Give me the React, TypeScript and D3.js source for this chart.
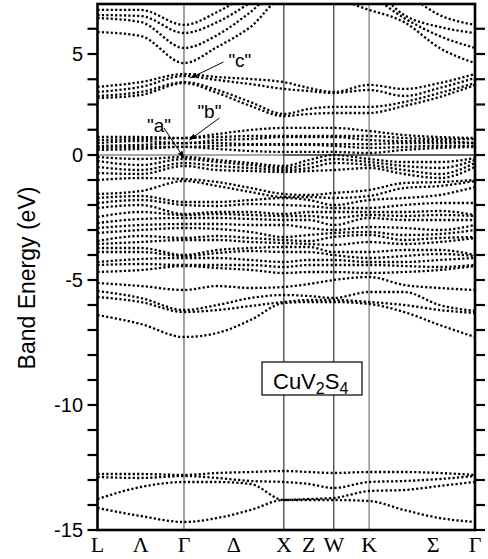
import React from 'react';
import * as d3 from 'd3';

// k-path sample positions (units of 2π/a): L, mid, Γ, .., X, mid, W, K, .., Γ
const kGrid = [0, 0.433, 0.866, 1.2, 1.533, 1.866, 2.116, 2.366, 2.72, 3.07, 3.425, 3.78];

// symmetry labels along the path
const symLabels = ['L', 'Λ', 'Γ', 'Δ', 'X', 'Z', 'W', 'K', 'Σ', 'Γ'];
const symLabelK = [0, 0.433, 0.866, 1.366, 1.866, 2.116, 2.366, 2.72, 3.36, 3.78];

// vertical symmetry lines
const symLineK = [0.866, 1.866, 2.366, 2.72];
const symLineColor = ['#555', '#222', '#222', '#999'];

// tick values (eV)
const majorTicks = [-15, -10, -5, 0, 5];
const minorTicks = [-14, -13, -12, -11, -9, -8, -7, -6, -4, -3, -2, -1, 1.25, 2.5, 3.75, 6.25];

// band energies (eV) at kGrid
const upperBands = [
  [6.09, 5.89, 4.55, 5.35, 6.34, 7.77, 7.67, 7.67, 7.18, 6.58, 5.3, 4.55],
  [6.78, 6.58, 5.3, 5.94, 7.08, 8.42, 8.42, 8.42, 7.92, 6.78, 5.89, 5.3],
  [6.93, 6.88, 6.04, 6.58, 7.57, 8.91, 8.91, 8.91, 8.42, 6.93, 6.34, 6.04],
  [7.18, 7.18, 6.44, 7.08, 8.07, 9.41, 9.41, 9.41, 9.16, 8.07, 6.93, 6.44],
];

const conductionBands = [
  [3.37, 3.61, 4.01, 3.86, 3.76, 3.61, 3.32, 3.12, 3.47, 3.27, 3.56, 4.01],
  [3.12, 3.37, 3.91, 3.71, 3.51, 3.27, 3.17, 3.07, 3.22, 2.92, 3.32, 3.81],
  [2.92, 3.12, 3.61, 3.22, 2.62, 2.03, 2.28, 2.38, 2.38, 2.62, 3.07, 3.56],
  [2.82, 2.97, 3.56, 3.07, 2.43, 1.93, 2.03, 2.08, 2.08, 2.43, 2.87, 3.47],
];

const t2gBands = [
  [0.89, 0.89, 0.84, 1.04, 1.24, 1.34, 1.34, 1.34, 1.19, 0.99, 0.89, 0.84],
  [0.74, 0.79, 0.84, 0.89, 0.94, 0.94, 0.94, 0.94, 0.94, 0.84, 0.79, 0.79],
  [0.59, 0.69, 0.59, 0.74, 0.79, 0.89, 0.89, 0.89, 0.74, 0.69, 0.69, 0.59],
  [0.45, 0.5, 0.59, 0.59, 0.54, 0.54, 0.54, 0.54, 0.54, 0.59, 0.59, 0.59],
  [0.35, 0.4, 0.4, 0.45, 0.5, 0.5, 0.5, 0.45, 0.35, 0.4, 0.45, 0.45],
  [0.25, 0.3, 0.4, 0.3, 0.2, 0.15, 0.15, 0.15, 0.1, 0.25, 0.35, 0.4],
];

const valenceBands = [
  [-0.08, -0.16, -0.08, -0.2, -0.32, -0.44, -0.2, 0.0, -0.16, -0.28, -0.28, -0.12],
  [-0.24, -0.4, -0.16, -0.28, -0.4, -0.52, -0.36, -0.16, -0.28, -0.44, -0.52, -0.2],
  [-0.48, -0.6, -0.32, -0.44, -0.52, -0.6, -0.52, -0.32, -0.4, -0.6, -0.76, -0.32],
  [-0.72, -0.76, -0.44, -0.6, -0.64, -0.68, -0.64, -0.6, -0.52, -0.76, -0.92, -0.48],
  [-1.0, -0.92, -0.96, -1.08, -1.32, -1.56, -1.6, -1.52, -1.4, -1.12, -1.08, -1.0],
  [-1.56, -1.44, -1.04, -1.24, -1.48, -1.68, -1.68, -1.72, -1.64, -1.32, -1.24, -1.04],
  [-1.72, -1.64, -1.88, -1.88, -1.8, -1.72, -1.8, -2.0, -1.8, -1.72, -1.6, -1.28],
  [-1.92, -1.8, -2.0, -2.04, -1.96, -2.0, -2.04, -2.12, -2.12, -2.0, -1.92, -1.92],
  [-2.12, -2.0, -2.36, -2.28, -2.28, -2.36, -2.28, -2.28, -2.28, -2.28, -2.24, -2.4],
  [-2.48, -2.28, -2.4, -2.36, -2.4, -2.44, -2.44, -2.52, -2.4, -2.44, -2.4, -2.44],
  [-2.72, -2.56, -2.52, -2.52, -2.56, -2.6, -2.6, -2.8, -2.52, -2.6, -2.6, -2.6],
  [-2.92, -2.8, -2.76, -2.76, -2.8, -2.8, -2.92, -3.0, -2.88, -2.92, -3.0, -2.8],
  [-3.12, -3.0, -2.92, -2.96, -3.08, -3.28, -3.2, -3.12, -3.08, -3.2, -3.16, -3.0],
  [-3.44, -3.24, -3.32, -3.24, -3.32, -3.4, -3.44, -3.28, -3.2, -3.4, -3.32, -3.28],
  [-3.56, -3.48, -3.4, -3.4, -3.48, -3.52, -3.56, -3.6, -3.48, -3.56, -3.48, -3.32],
  [-3.72, -3.72, -4.0, -3.8, -3.72, -3.68, -3.68, -3.88, -3.88, -3.8, -3.8, -4.0],
  [-3.88, -3.88, -4.04, -3.92, -3.84, -3.88, -3.88, -4.0, -4.12, -4.04, -3.96, -4.04],
  [-4.28, -4.16, -4.12, -4.12, -4.2, -4.28, -4.2, -4.2, -4.28, -4.28, -4.2, -4.12],
  [-4.4, -4.36, -4.4, -4.4, -4.4, -4.48, -4.4, -4.4, -4.4, -4.44, -4.48, -4.4],
  [-4.68, -4.6, -4.44, -4.52, -4.6, -4.72, -4.68, -4.68, -4.72, -4.68, -4.6, -4.44],
  [-5.12, -5.24, -5.4, -5.24, -5.32, -5.28, -5.16, -5.0, -4.88, -5.2, -5.32, -5.4],
  [-5.44, -5.72, -6.2, -6.0, -5.72, -5.6, -5.64, -5.72, -5.48, -5.48, -6.0, -6.24],
  [-5.68, -5.88, -6.28, -6.2, -6.04, -5.88, -5.8, -5.8, -5.88, -6.0, -6.2, -6.32],
  [-6.4, -6.76, -7.28, -7.12, -6.6, -5.92, -5.88, -5.88, -5.96, -6.28, -6.8, -7.28],
];

const sBands = [
  [-12.76, -12.76, -12.8, -12.72, -12.68, -12.64, -12.68, -12.72, -12.68, -12.68, -12.72, -12.8],
  [-12.88, -12.92, -12.84, -12.92, -13.04, -13.08, -13.16, -13.32, -13.08, -13.04, -12.96, -12.84],
  [-13.76, -13.28, -13.08, -13.08, -13.16, -13.8, -13.76, -13.72, -13.44, -13.4, -13.24, -13.08],
  [-14.12, -14.44, -14.68, -14.52, -14.2, -13.8, -13.8, -13.8, -13.84, -14.2, -14.52, -14.68],
];

// annotations: label, target k, target E
const noteLabels = ['"a"', '"b"', '"c"'];
const noteK = [0.866, 0.92, 0.93];
const noteE = [-0.12, 0.74, 3.81];

export default function App() {
  const left = 97.5, right = 475, top = 4, bottom = 530;
  const x = d3.scaleLinear().domain([0, 3.78]).range([left, right]);
  const y = d3.scaleLinear().domain([-15, 0, 5]).range([bottom, 155, 54]);

  const line = d3
    .line<number>()
    .x((_, i) => x(kGrid[i]))
    .y((d) => y(d))
    .curve(d3.curveMonotoneX);

  const allBands = [...upperBands, ...conductionBands, ...t2gBands, ...valenceBands, ...sBands];

  const sans = '"Liberation Sans", Arial, Helvetica, sans-serif';
  const serif = '"Liberation Serif", "Times New Roman", Times, serif';

  // annotation text offsets (px) relative to arrow target
  const noteTextDx = [-37, 8, 38];
  const noteTextDy = [-26, -22, -11];
  const noteStartDx = [-20, 30, 33];
  const noteStartDy = [-30, -22, -16];

  return (
    <svg
      width={488}
      height={559}
      style={{ position: 'absolute', left: 0, top: 0, background: '#fff' }}
    >
      <defs>
        <clipPath id="plotClip">
          <rect x={left} y={top} width={right - left} height={bottom - top} />
        </clipPath>
        <marker
          id="arrowHead"
          viewBox="0 0 10 10"
          refX="10"
          refY="5"
          markerWidth="7"
          markerHeight="7"
          markerUnits="userSpaceOnUse"
          orient="auto"
        >
          <path d="M0,1 L10,5 L0,9 z" fill="#000" />
        </marker>
      </defs>
      <rect x={0} y={0} width={488} height={559} fill="#fff" />

      {/* Fermi level */}
      <line x1={left} x2={x(1.866)} y1={y(0)} y2={y(0)} stroke="#8a8a8a" strokeWidth={1.4} />
      <line x1={x(1.866)} x2={right} y1={y(0)} y2={y(0)} stroke="#333" strokeWidth={1.3} />

      {/* symmetry lines */}
      {symLineK.map((k, i) => (
        <line
          key={'sl' + i}
          x1={x(k)}
          x2={x(k)}
          y1={top}
          y2={bottom}
          stroke={symLineColor[i]}
          strokeWidth={i === 3 ? 1.6 : 1.1}
        />
      ))}

      {/* bands */}
      <g clipPath="url(#plotClip)">
        {allBands.map((b, i) => (
          <path
            key={'b' + i}
            d={line(b) || ''}
            fill="none"
            stroke="#000"
            strokeWidth={2.3}
            strokeDasharray="2.2 2.2"
          />
        ))}
      </g>

      {/* compound label */}
      <rect x={262} y={y(-8.28)} width={100} height={y(-9.6) - y(-8.28)} fill="#fff" stroke="#000" strokeWidth={1.2} />
      <text x={273} y={y(-9.36)} fontFamily={sans} fontSize={22} fill="#000">
        CuV
        <tspan fontSize={16} dy={5}>2</tspan>
        <tspan dy={-5}>S</tspan>
        <tspan fontSize={16} dy={5}>4</tspan>
      </text>

      {/* frame */}
      <rect x={left} y={top} width={right - left} height={bottom - top} fill="none" stroke="#000" strokeWidth={2.6} />

      {/* ticks */}
      {[...majorTicks, ...minorTicks].map((v, i) => (
        <g key={'t' + i}>
          <line x1={left - 10} x2={left} y1={y(v)} y2={y(v)} stroke="#000" strokeWidth={2.2} />
          <line x1={right} x2={right + 10} y1={y(v)} y2={y(v)} stroke="#000" strokeWidth={2.2} />
        </g>
      ))}
      {majorTicks.map((v, i) => (
        <text
          key={'tl' + i}
          x={83}
          y={y(v)}
          dy="0.36em"
          textAnchor="end"
          fontFamily={sans}
          fontSize={20}
          fill="#000"
        >
          {String(v)}
        </text>
      ))}

      {/* y axis title */}
      <text
        transform={`translate(35, 278) rotate(-90)`}
        textAnchor="middle"
        fontFamily={sans}
        fontSize={23}
        fill="#000"
      >
        Band Energy (eV)
      </text>

      {/* k labels */}
      {symLabels.map((s, i) => (
        <text
          key={'kl' + i}
          x={x(symLabelK[i])}
          y={552}
          textAnchor="middle"
          fontFamily={serif}
          fontSize={22}
          fill="#000"
        >
          {s}
        </text>
      ))}

      {/* annotations */}
      {noteLabels.map((s, i) => {
        const tx = x(noteK[i]);
        const ty = y(noteE[i]);
        return (
          <g key={'n' + i}>
            <line
              x1={tx + noteStartDx[i]}
              y1={ty + noteStartDy[i]}
              x2={tx}
              y2={ty}
              stroke="#000"
              strokeWidth={1}
              markerEnd="url(#arrowHead)"
            />
            <text
              x={tx + noteTextDx[i]}
              y={ty + noteTextDy[i]}
              fontFamily={sans}
              fontSize={19}
              fill="#000"
            >
              {s}
            </text>
          </g>
        );
      })}
    </svg>
  );
}
